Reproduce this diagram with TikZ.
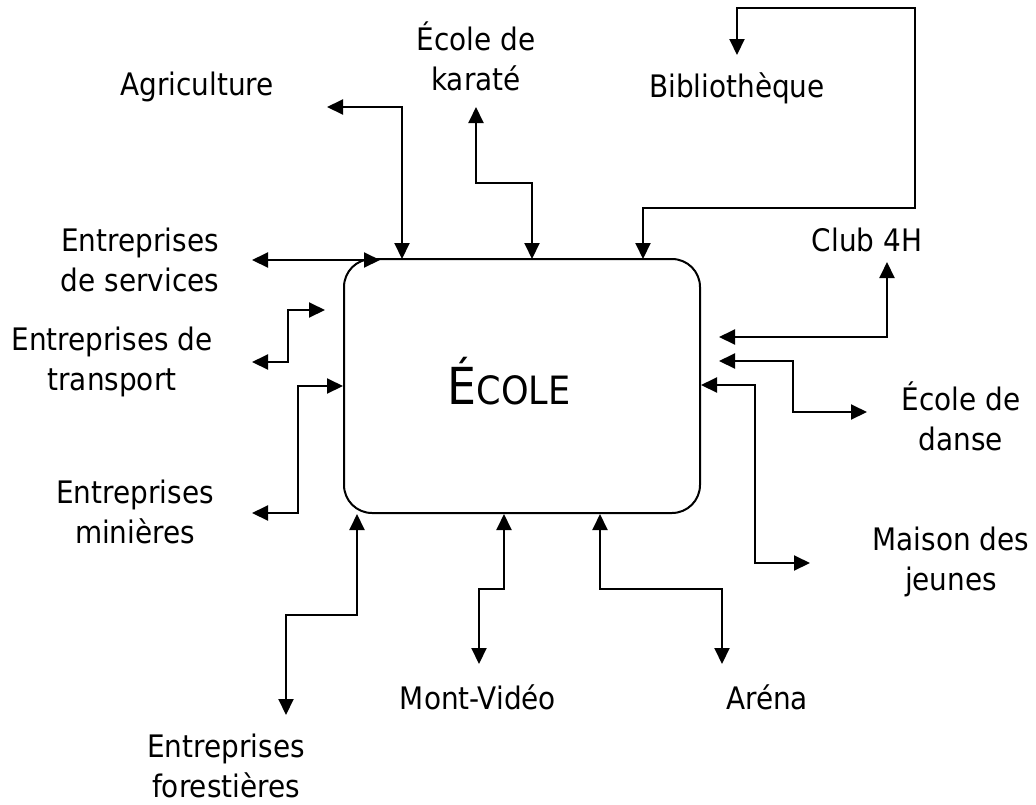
\documentclass[tikz,border=0pt]{standalone}
\usepackage{fontspec}
\setmainfont{DejaVu Sans Condensed}
\usetikzlibrary{arrows.meta}
\begin{document}
\begin{tikzpicture}[x=1pt,y=-1pt,
  conn/.style={line width=2pt,{Triangle[length=16pt,width=15pt]}-{Triangle[length=16pt,width=15pt]}},
  lbl/.style={align=center,font=\fontsize{31}{40}\selectfont,inner sep=0pt}]
\useasboundingbox (0,0) rectangle (1036,804);
\fill[white] (0,0) rectangle (1036,804);
% central box
\node[draw,line width=2pt,rounded corners=28pt,minimum width=356pt,minimum height=254pt,inner sep=0pt] (box) at (522,386) {};
\node[inner sep=0pt] (ecole) at (509,381) {\fontsize{51}{56}\selectfont É\fontsize{39}{44}\selectfont COLE};
% labels
\node[lbl] (agri) at (197,87) {Agriculture};
\node[lbl] (karate) at (476,56) {École de\\karaté};
\node[lbl] (biblio) at (737,88) {Bibliothèque};
\node[lbl] (club) at (867,240) {Club 4H};
\node[lbl] (danse) at (961,416) {École de\\danse};
\node[lbl] (maison) at (951,562) {Maison des\\jeunes};
\node[lbl] (arena) at (767,697) {Aréna};
\node[lbl] (mont) at (478,697) {Mont-Vidéo};
\node[lbl] (forest) at (226,766) {Entreprises\\forestières};
\node[lbl] (minier) at (135,512) {Entreprises\\minières};
\node[lbl] (transp) at (112,362) {Entreprises de\\transport};
\node[lbl] (serv) at (140,260) {Entreprises\\de services};
% connector end points
\coordinate (agA) at (327,107);  \coordinate (agB) at (402,259);
\coordinate (kaA) at (476,107);  \coordinate (kaB) at (532,259);
\coordinate (biA) at (737,55);   \coordinate (biB) at (643,259);
\coordinate (clA) at (719,337);  \coordinate (clB) at (887,262);
\coordinate (daA) at (719,361);  \coordinate (daB) at (867,412);
\coordinate (maA) at (701,385);  \coordinate (maB) at (810,563);
\coordinate (arA) at (600,514);  \coordinate (arB) at (722,664);
\coordinate (moA) at (504,514);  \coordinate (moB) at (479,664);
\coordinate (foA) at (357,514);  \coordinate (foB) at (286,715);
\coordinate (miA) at (343,386);  \coordinate (miB) at (252,513);
\coordinate (trA) at (325,310);  \coordinate (trB) at (252,362);
\coordinate (seA) at (252,260);  \coordinate (seB) at (380,260);
% connectors
\draw[conn] (agA) -| (agB);
\draw[conn] (kaA) -- (476,183) -| (kaB);
\draw[conn] (biA) -- (737,8) -- (915,8) -- (915,208) -| (biB);
\draw[conn] (clA) -| (clB);
\draw[conn] (daA) -- (793,361) |- (daB);
\draw[conn] (maA) -- (755,385) |- (maB);
\draw[conn] (arA) -- (600,589) -| (arB);
\draw[conn] (moA) -- (504,589) -| (moB);
\draw[conn] (foA) -- (357,615) -| (foB);
\draw[conn] (miA) -- (298,386) |- (miB);
\draw[conn] (trA) -- (288,310) |- (trB);
\draw[conn] (seA) -- (seB);
\end{tikzpicture}
\end{document}
